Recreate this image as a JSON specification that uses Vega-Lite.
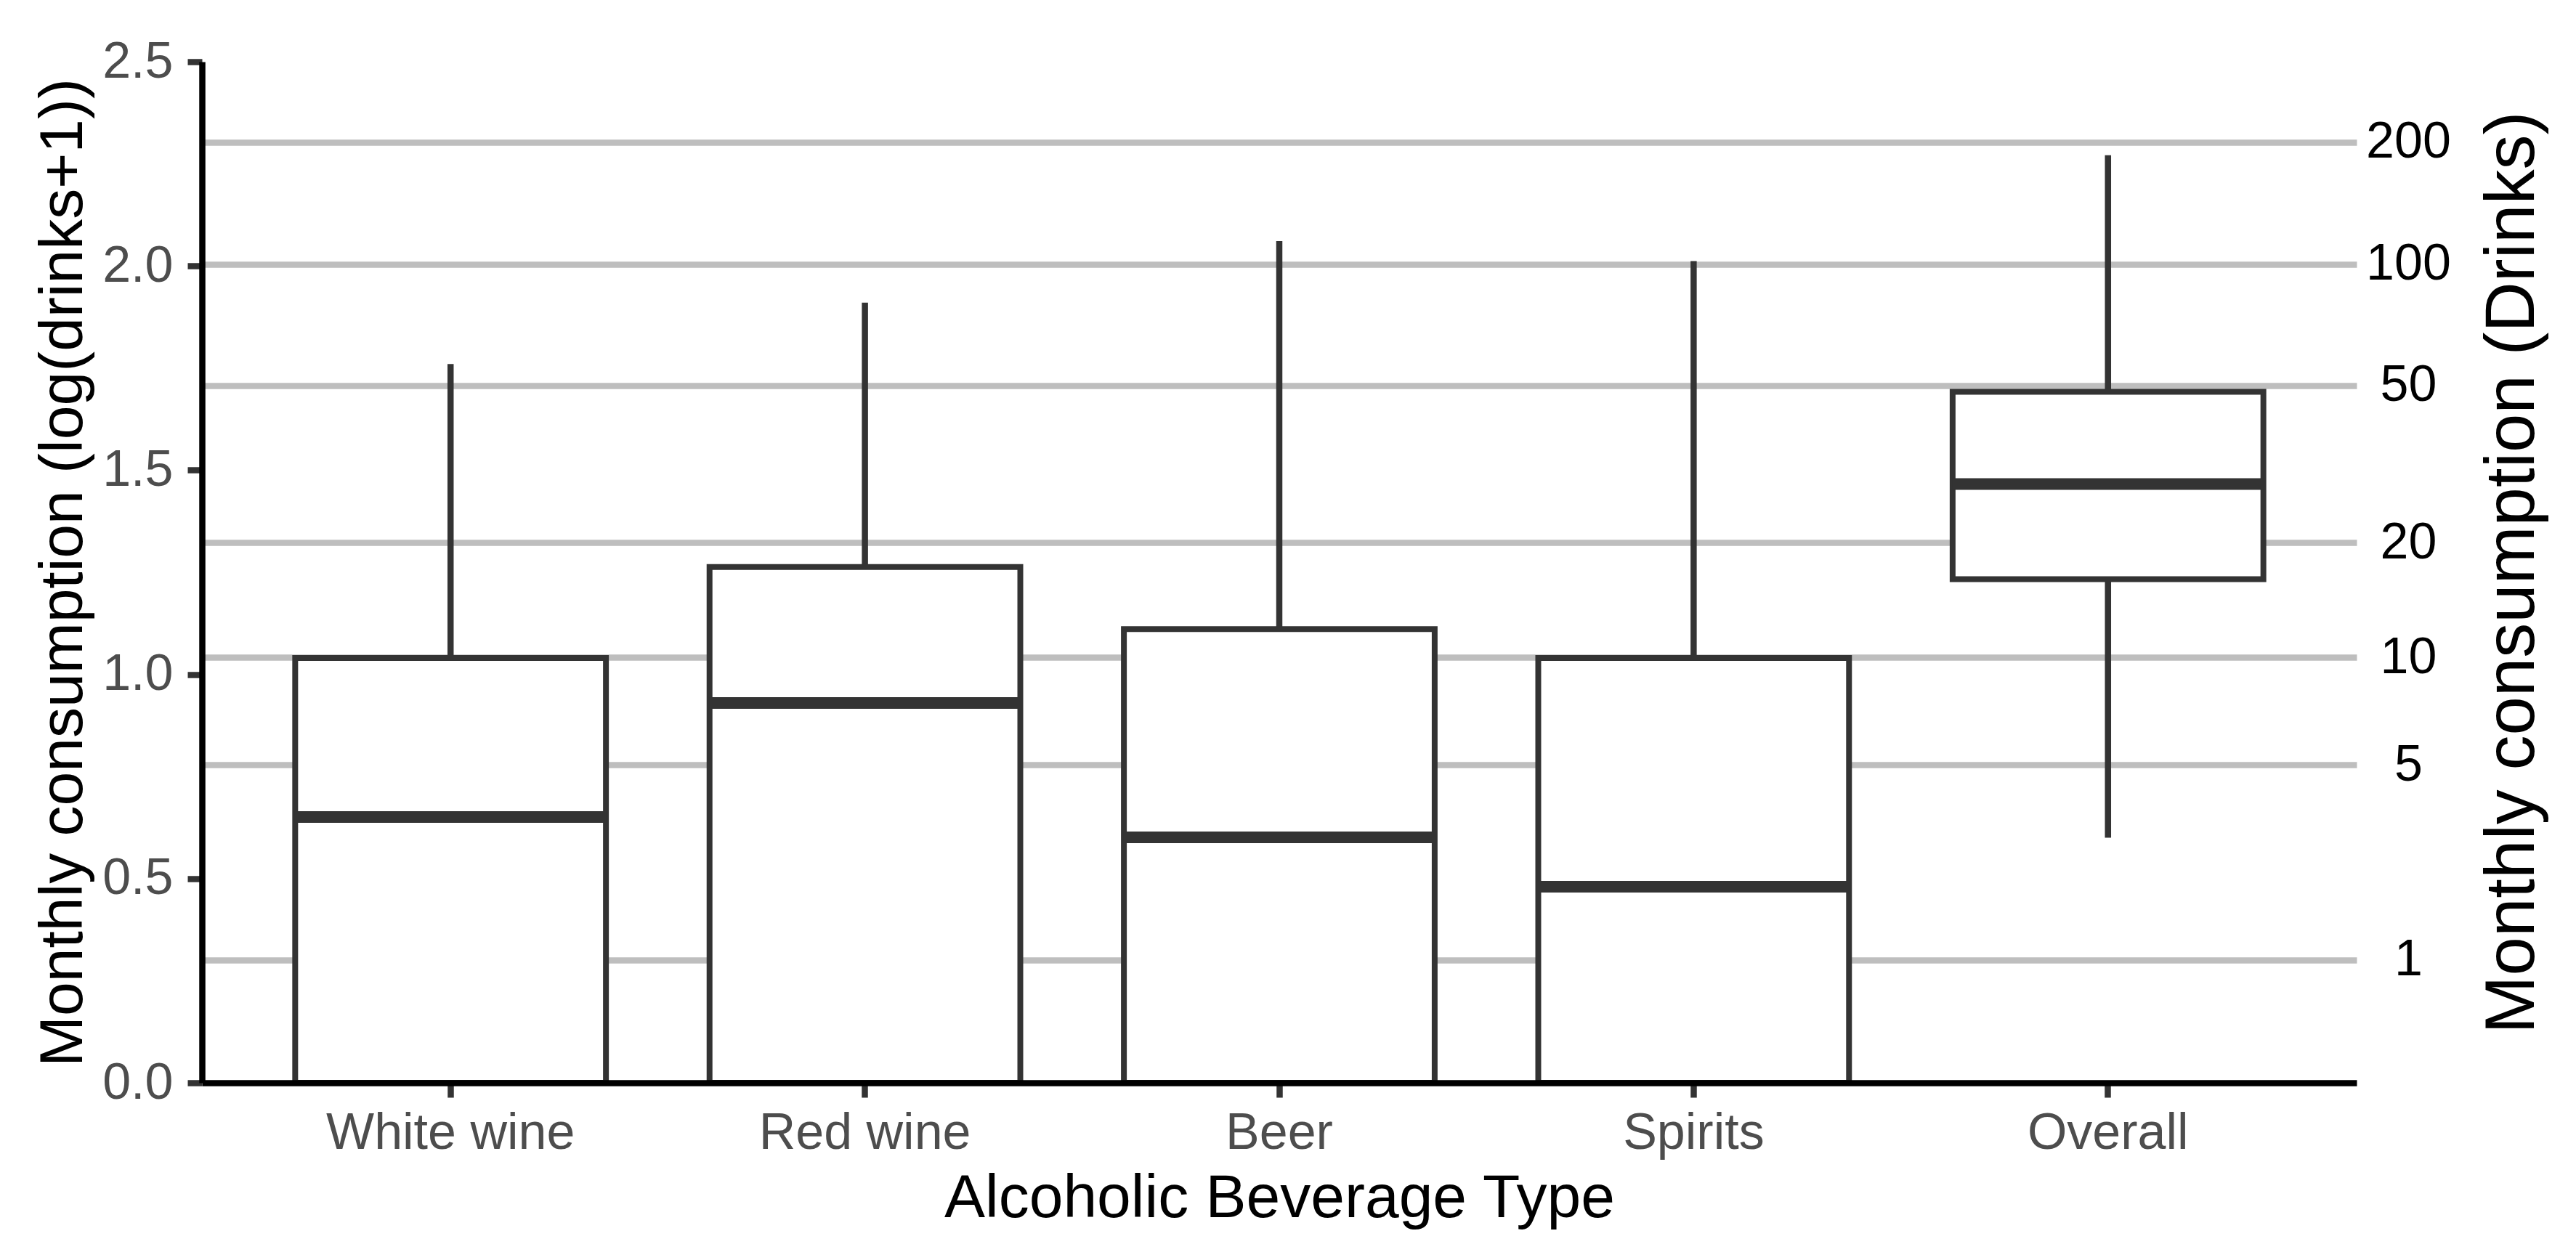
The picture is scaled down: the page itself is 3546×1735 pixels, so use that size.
{
  "$schema": "https://vega.github.io/schema/vega-lite/v6.json",
  "width": 2966,
  "height": 1406,
  "autosize": "none",
  "padding": {"left": 278, "top": 85, "right": 302, "bottom": 244},
  "background": "white",
  "config": {
    "font": "Liberation Sans",
    "view": {"stroke": null}
  },
  "data": {
    "values": [
      {"type": "White wine", "wlow": 0, "q1": 0, "median": 0.651, "q3": 1.04, "whigh": 1.76},
      {"type": "Red wine", "wlow": 0, "q1": 0, "median": 0.93, "q3": 1.263, "whigh": 1.91},
      {"type": "Beer", "wlow": 0, "q1": 0, "median": 0.601, "q3": 1.111, "whigh": 2.061},
      {"type": "Spirits", "wlow": 0, "q1": 0, "median": 0.48, "q3": 1.04, "whigh": 2.012},
      {"type": "Overall", "wlow": 0.6, "q1": 1.233, "median": 1.466, "q3": 1.692, "whigh": 2.271}
    ]
  },
  "encoding": {
    "x": {
      "field": "type",
      "type": "nominal",
      "sort": ["White wine", "Red wine", "Beer", "Spirits", "Overall"],
      "scale": {"type": "band", "paddingInner": 0.25, "paddingOuter": 0.225},
      "axis": {
        "title": "Alcoholic Beverage Type",
        "titleFontSize": 84,
        "titleFontWeight": "normal",
        "titleColor": "black",
        "titlePadding": 14,
        "labelAngle": 0,
        "labelLimit": 0,
        "labelFontSize": 70,
        "labelColor": "#4D4D4D",
        "labelPadding": 15,
        "tickColor": "#333333",
        "tickWidth": 8.5,
        "tickSize": 20,
        "domainColor": "black",
        "domainWidth": 8.5,
        "grid": false,
        "zindex": 1
      }
    }
  },
  "layer": [
    {
      "mark": {"type": "rule", "color": "#333333", "strokeWidth": 8.5},
      "encoding": {
        "y": {
          "field": "wlow",
          "type": "quantitative",
          "scale": {"domain": [0, 2.5], "nice": false, "zero": false},
          "axis": {
            "orient": "left",
            "values": [0, 0.5, 1, 1.5, 2, 2.5],
            "format": ".1f",
            "grid": false,
            "title": "Monthly consumption (log(drinks+1))",
            "titleFontSize": 84,
            "titleFontWeight": "normal",
            "titleColor": "black",
            "titlePadding": 10,
            "labelFontSize": 70,
            "labelColor": "#4D4D4D",
            "labelPadding": 20,
            "tickColor": "#333333",
            "tickWidth": 8.5,
            "tickSize": 20,
            "domainColor": "black",
            "domainWidth": 8.5,
            "zindex": 1
          }
        },
        "y2": {"field": "q1"}
      }
    },
    {
      "mark": {"type": "rule", "color": "#333333", "strokeWidth": 8.5},
      "encoding": {
        "y": {
          "field": "q3",
          "type": "quantitative",
          "axis": {
            "orient": "right",
            "values": [0.30103, 0.77815, 1.04139, 1.32222, 1.70757, 2.00432, 2.3032],
            "labelExpr": "format(pow(10, datum.value) - 1, '.0f')",
            "grid": true,
            "gridColor": "#BEBEBE",
            "gridWidth": 8.5,
            "domain": false,
            "ticks": false,
            "tickSize": 0,
            "labelAlign": "center",
            "labelPadding": 71,
            "labelFontSize": 70,
            "labelColor": "black",
            "title": "Monthly consumption (Drinks)",
            "titleAngle": -90,
            "titleBaseline": "top",
            "titleFontSize": 96,
            "titleFontWeight": "normal",
            "titleColor": "black",
            "titlePadding": 38,
            "zindex": 0
          }
        },
        "y2": {"field": "whigh"}
      }
    },
    {
      "mark": {"type": "bar", "fill": "white", "fillOpacity": 1, "stroke": "#333333", "strokeWidth": 8},
      "encoding": {
        "y": {"field": "q1", "type": "quantitative", "axis": null},
        "y2": {"field": "q3"}
      }
    },
    {
      "mark": {"type": "tick", "orient": "horizontal", "color": "#333333", "opacity": 1, "size": 429, "thickness": 16},
      "encoding": {
        "y": {"field": "median", "type": "quantitative", "axis": null}
      }
    }
  ],
  "resolve": {"scale": {"y": "shared"}, "axis": {"y": "independent"}}
}
